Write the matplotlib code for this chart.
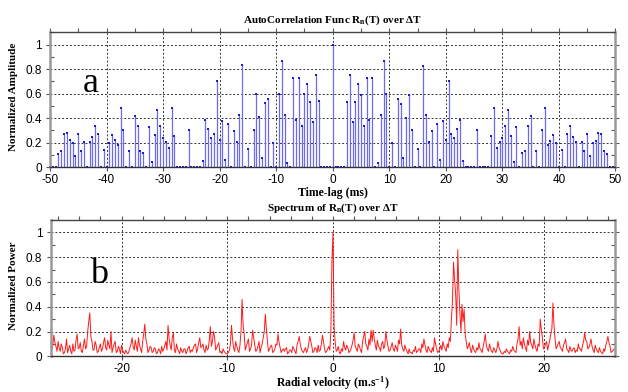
import numpy as np
import matplotlib
matplotlib.use("Agg")
import matplotlib.pyplot as plt
from matplotlib.ticker import MultipleLocator

plt.rcParams['font.family'] = ['Liberation Sans', 'DejaVu Sans']
plt.rcParams['axes.unicode_minus'] = False
plt.rcParams['mathtext.fontset'] = 'custom'
plt.rcParams['mathtext.rm'] = 'Liberation Serif'
plt.rcParams['mathtext.bf'] = 'Liberation Serif:bold'
plt.rcParams['mathtext.it'] = 'Liberation Serif:italic'

# ---- Panel a: autocorrelation (lags -50 .. 50 ms, step 0.5) ----
lag_start, lag_stop, lag_step = -50.0, 50.0, 0.5
acf_neg = [
    0, 0, 0, 0.11, 0.13, 0.27, 0.28, 0.22, 0.195, 0.09,
    0.27, 0.135, 0.21, 0, 0.21, 0.25, 0.34, 0.275, 0, 0.14,
    0, 0.195, 0.26, 0.22, 0.18, 0.485, 0.30, 0, 0.13, 0,
    0.415, 0.335, 0.135, 0.12, 0, 0.325, 0.04, 0.26, 0.465, 0.335,
    0.24, 0.205, 0.16, 0.48, 0.255, 0, 0, 0, 0, 0.30,
    0, 0, 0, 0, 0.05, 0.385, 0.31, 0.24, 0.27, 0.705,
    0.22, 0.375, 0.06, 0.355, 0, 0.295, 0.21, 0.43, 0.83, 0,
    0.15, 0, 0.305, 0.595, 0.41, 0.075, 0.52, 0.56, 0, 0.195,
    0, 0.595, 0.87, 0.425, 0.035, 0, 0.73, 0.385, 0.73, 0.34,
    0.595, 0.68, 0.535, 0.37, 0.75, 0.54, 0, 0, 0, 0,
]
acf_zero = [1.0]
acf_pos = [
    0, 0, 0, 0, 0.535, 0.75, 0.37, 0.535, 0.68, 0.59,
    0.34, 0.73, 0.385, 0.73, 0, 0.035, 0.425, 0.865, 0.595, 0,
    0.195, 0, 0.56, 0.515, 0.075, 0.405, 0.59, 0.305, 0, 0.15,
    0, 0.825, 0.43, 0.21, 0.295, 0, 0.355, 0.06, 0.375, 0.22,
    0.705, 0.27, 0.24, 0.31, 0.385, 0.05, 0, 0, 0, 0,
    0.30, 0, 0, 0, 0, 0.255, 0.48, 0.16, 0.205, 0.24,
    0.335, 0.465, 0.255, 0.04, 0.325, 0, 0.12, 0.135, 0.335, 0.415,
    0, 0.13, 0, 0.30, 0.485, 0.18, 0.215, 0.26, 0.195, 0,
    0.14, 0, 0.27, 0.335, 0.245, 0.21, 0, 0.21, 0.135, 0.27,
    0.09, 0.195, 0.215, 0.28, 0.27, 0.13, 0.11, 0, 0, 0,
]
acf_vals = acf_neg + acf_zero + acf_pos

# ---- Panel b: spectrum (velocity -26.6 .. 26.6 m/s, step 0.1) ----
vel_start, vel_stop = -26.6, 26.6
spec_vals = [
    0.05, 0.09, 0.17, 0.11, 0.08, 0.04, 0.12, 0.07, 0.04, 0.10, 0.07, 0.02, 0.03, 0.06, 0.14, 0.03, 0.06, 0.09, 0.04, 0.02,
    0.10, 0.04, 0.05, 0.13, 0.18, 0.06, 0.07, 0.11, 0.04, 0.03, 0.09, 0.14, 0.06, 0.08, 0.20, 0.28, 0.35, 0.16, 0.12, 0.05,
    0.05, 0.12, 0.09, 0.03, 0.04, 0.07, 0.10, 0.04, 0.06, 0.11, 0.15, 0.07, 0.05, 0.13, 0.09, 0.06, 0.20, 0.03, 0.07, 0.10,
    0.12, 0.03, 0.04, 0.08, 0.06, 0.02, 0.09, 0.05, 0.03, 0.02, 0.05, 0.03, 0.02, 0.04, 0.07, 0.10, 0.15, 0.08, 0.05, 0.13,
    0.08, 0.04, 0.15, 0.09, 0.06, 0.03, 0.12, 0.18, 0.26, 0.14, 0.10, 0.03, 0.05, 0.08, 0.07, 0.03, 0.04, 0.07, 0.06, 0.02,
    0.03, 0.06, 0.05, 0.02, 0.08, 0.04, 0.06, 0.09, 0.12, 0.05, 0.25, 0.14, 0.09, 0.05, 0.15, 0.19, 0.05, 0.03, 0.10, 0.06,
    0.04, 0.02, 0.07, 0.04, 0.03, 0.06, 0.06, 0.02, 0.04, 0.07, 0.08, 0.03, 0.05, 0.04, 0.07, 0.09, 0.10, 0.03, 0.06, 0.11,
    0.15, 0.07, 0.08, 0.10, 0.05, 0.03, 0.09, 0.05, 0.06, 0.13, 0.24, 0.08, 0.12, 0.20, 0.16, 0.05, 0.07, 0.09, 0.11, 0.03,
    0.04, 0.02, 0.06, 0.04, 0.03, 0.02, 0.02, 0.03, 0.05, 0.10, 0.25, 0.14, 0.07, 0.04, 0.12, 0.08, 0.05, 0.03, 0.09, 0.20,
    0.46, 0.25, 0.18, 0.05, 0.08, 0.11, 0.14, 0.04, 0.06, 0.09, 0.21, 0.15, 0.09, 0.04, 0.05, 0.08, 0.12, 0.03, 0.07, 0.10,
    0.15, 0.20, 0.34, 0.22, 0.12, 0.04, 0.06, 0.08, 0.09, 0.03, 0.04, 0.06, 0.10, 0.09, 0.18, 0.11, 0.07, 0.03, 0.05, 0.06,
    0.04, 0.06, 0.07, 0.02, 0.03, 0.05, 0.05, 0.03, 0.08, 0.06, 0.04, 0.02, 0.09, 0.12, 0.16, 0.10, 0.06, 0.04, 0.03, 0.05,
    0.07, 0.03, 0.05, 0.10, 0.16, 0.12, 0.08, 0.03, 0.04, 0.07, 0.06, 0.03, 0.09, 0.04, 0.05, 0.10, 0.17, 0.12, 0.06, 0.03,
    0.04, 0.06, 0.08, 0.05, 0.20, 0.77, 1.00, 0.25, 0.12, 0.04, 0.05, 0.08, 0.03, 0.02, 0.06, 0.04, 0.12, 0.07, 0.05, 0.09,
    0.07, 0.03, 0.04, 0.06, 0.09, 0.13, 0.19, 0.08, 0.06, 0.04, 0.10, 0.08, 0.05, 0.03, 0.12, 0.16, 0.20, 0.10, 0.08, 0.05,
    0.14, 0.09, 0.21, 0.12, 0.21, 0.14, 0.09, 0.05, 0.13, 0.08, 0.07, 0.04, 0.10, 0.12, 0.06, 0.09, 0.20, 0.13, 0.08, 0.04,
    0.05, 0.08, 0.11, 0.06, 0.04, 0.09, 0.07, 0.04, 0.13, 0.10, 0.22, 0.09, 0.06, 0.04, 0.09, 0.06, 0.04, 0.02, 0.06, 0.03,
    0.03, 0.02, 0.05, 0.04, 0.08, 0.03, 0.04, 0.06, 0.06, 0.03, 0.10, 0.07, 0.14, 0.09, 0.05, 0.03, 0.08, 0.06, 0.04, 0.03,
    0.07, 0.04, 0.15, 0.10, 0.06, 0.03, 0.04, 0.06, 0.09, 0.05, 0.12, 0.08, 0.06, 0.04, 0.10, 0.07, 0.15, 0.12, 0.30, 0.45,
    0.76, 0.62, 0.50, 0.25, 0.86, 0.55, 0.35, 0.20, 0.42, 0.28, 0.38, 0.18, 0.12, 0.06, 0.08, 0.11, 0.05, 0.03, 0.09, 0.06,
    0.04, 0.03, 0.07, 0.05, 0.11, 0.06, 0.05, 0.03, 0.08, 0.12, 0.18, 0.09, 0.06, 0.04, 0.10, 0.06, 0.04, 0.03, 0.07, 0.05,
    0.03, 0.06, 0.12, 0.07, 0.05, 0.03, 0.02, 0.02, 0.04, 0.03, 0.06, 0.04, 0.03, 0.02, 0.05, 0.04, 0.08, 0.05, 0.04, 0.03,
    0.10, 0.14, 0.24, 0.09, 0.12, 0.06, 0.15, 0.10, 0.07, 0.04, 0.13, 0.09, 0.20, 0.11, 0.09, 0.06, 0.14, 0.09, 0.06, 0.04,
    0.10, 0.08, 0.30, 0.22, 0.15, 0.06, 0.07, 0.10, 0.12, 0.05, 0.09, 0.13, 0.18, 0.22, 0.43, 0.25, 0.14, 0.06, 0.08, 0.10,
    0.12, 0.07, 0.06, 0.04, 0.09, 0.11, 0.14, 0.06, 0.05, 0.03, 0.08, 0.05, 0.04, 0.06, 0.07, 0.03, 0.05, 0.04, 0.10, 0.06,
    0.06, 0.04, 0.09, 0.12, 0.19, 0.13, 0.12, 0.06, 0.07, 0.10, 0.14, 0.08, 0.05, 0.03, 0.09, 0.06, 0.04, 0.03, 0.07, 0.04,
    0.03, 0.02, 0.06, 0.04, 0.09, 0.12, 0.16, 0.11, 0.08, 0.03, 0.04, 0.05, 0.06,
]

titles = ["AutoCorrelation Func R$_\\mathbf{n}$(T) over \u0394T",
          "Spectrum of R$_\\mathbf{n}$(T) over \u0394T"]
xlabels = ["Time-lag (ms)", "Radial velocity (m.s$^\\mathbf{-1}$)"]
ylabels = ["Normalized Amplitude", "Normalized Power"]
panel_letters = ["a", "b"]

SERIF = "Liberation Serif"

fig = plt.figure(figsize=(6.28, 3.92), dpi=100)
ax1 = fig.add_axes([0.0796, 0.5732, 0.9004, 0.3444])
ax2 = fig.add_axes([0.0807, 0.0911, 0.8991, 0.3477])

lags = np.arange(lag_start, lag_stop + lag_step / 2, lag_step)
ml, sl, bl = ax1.stem(lags, acf_vals, basefmt=" ")
plt.setp(sl, color="#6a6af2", linewidth=0.9)
plt.setp(ml, color="#1a1ae0", marker="s", markersize=1.9, markeredgewidth=0, clip_on=False)
ax1.set_xlim(-50, 50)
ax1.set_ylim(0, 1.1)
ax1.xaxis.set_major_locator(MultipleLocator(10))
ax1.xaxis.set_minor_locator(MultipleLocator(5))

vel = np.linspace(vel_start, vel_stop, len(spec_vals))
ax2.plot(vel, spec_vals, color="#ff1a1a", linewidth=0.7)
ax2.set_xlim(-26.7, 26.7)
ax2.set_ylim(0, 1.1)
ax2.xaxis.set_major_locator(MultipleLocator(10))
ax2.xaxis.set_minor_locator(MultipleLocator(2))

for i, ax in enumerate([ax1, ax2]):
    ax.yaxis.set_minor_locator(MultipleLocator(0.1))
    ax.set_yticks([0, 0.2, 0.4, 0.6, 0.8, 1.0])
    ax.set_yticklabels(["0", "0.2", "0.4", "0.6", "0.8", "1"])
    ax.grid(True, which="major", color="#333333", linestyle=(0, (2, 2)), linewidth=0.7)
    ax.set_axisbelow(True)
    for s in ["left", "right"]:
        ax.spines[s].set_color("#999999")
        ax.spines[s].set_linewidth(1.8)
    ax.spines["top"].set_color("#444444")
    ax.spines["top"].set_linewidth(1.0)
    ax.spines["bottom"].set_color("#333333")
    ax.spines["bottom"].set_linewidth(1.0)
    ax.tick_params(axis="x", which="both", top=True, bottom=True, direction="out",
                   length=3, width=0.8, color="#555555", labelsize=8.5, pad=2)
    ax.tick_params(axis="x", which="minor", bottom=False)
    ax.tick_params(axis="y", which="major", left=True, right=True, direction="out",
                   length=3, width=0.8, color="#555555", labelsize=8.5, pad=3)
    ax.tick_params(axis="y", which="minor", left=True, right=True, direction="in",
                   length=3, width=0.8, color="#555555")
    ax.text(0.5, 1.09 if i == 0 else 1.088, titles[i], transform=ax.transAxes,
            ha="center", va="center", fontsize=8, fontweight="bold", family=SERIF)
    ax.text(0.5, -0.19 if i == 0 else -0.195, xlabels[i], transform=ax.transAxes,
            ha="center", va="center", fontsize=8.5, fontweight="bold", family=SERIF)
    ax.text(-0.065, 0.52, ylabels[i], transform=ax.transAxes, rotation=90,
            ha="center", va="center", fontsize=8, fontweight="bold", family=SERIF)

ax1.text(-44.2, 0.612, panel_letters[0], ha="left", va="baseline", fontsize=26, family=SERIF)
ax2.text(-23.0, 0.589, panel_letters[1], ha="left", va="baseline", fontsize=26, family=SERIF)

fig.savefig("out.png", dpi=100)
